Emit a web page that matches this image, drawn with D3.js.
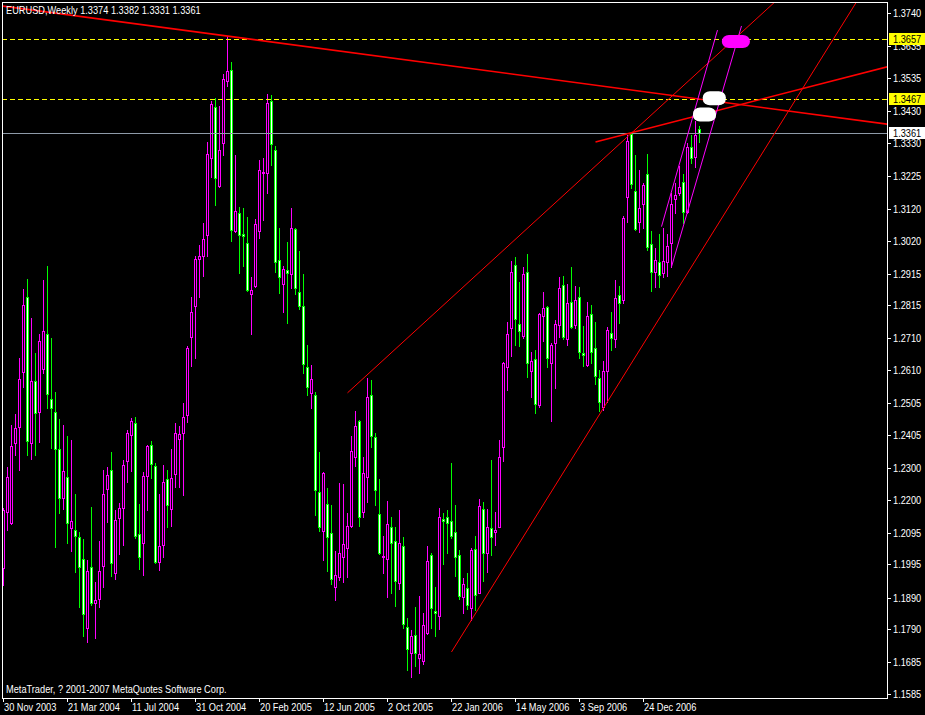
<!DOCTYPE html>
<html><head><meta charset="utf-8">
<script src="https://cdn.jsdelivr.net/npm/d3@7"></script>
<style>html,body{margin:0;padding:0;background:#000;overflow:hidden}</style>
</head><body>
<svg id="c" width="925" height="715"></svg>
<script>
// ---------------- DATA ----------------
const symbolTitle = "EURUSD,Weekly  1.3374 1.3382 1.3331 1.3361";
const copyright = "MetaTrader, ? 2001-2007 MetaQuotes Software Corp.";

const opens = [1.1984,1.2162,1.2125,1.2379,1.2429,1.2605,1.2840,1.2379,1.2576,1.2477,
1.2613,1.2723,1.2518,1.2477,1.2360,1.2204,1.2271,1.2110,1.2104,1.2081,
1.2011,1.1795,1.1986,1.1874,1.1885,1.1991,1.2233,1.2294,1.1967,1.2141,
1.2173,1.2323,1.2406,1.2442,1.2092,1.2063,1.2276,1.2373,1.2305,1.2003,
1.2057,1.2264,1.2169,1.2281,1.2391,1.2412,1.2469,1.2714,1.2813,1.2963,
1.2970,1.3036,1.3281,1.3443,1.3194,1.3330,1.3524,1.3559,1.3050,1.3107,
1.3041,1.3012,1.2852,1.2877,1.3051,1.3233,1.3235,1.3463,1.3307,1.2958,
1.2882,1.2926,1.2913,1.3057,1.2856,1.2813,1.2619,1.2537,1.2531,1.2224,
1.2102,1.2186,1.2094,1.1923,1.1956,1.2018,1.2048,1.2118,1.2334,1.2449,
1.2160,1.2273,1.2531,1.2398,1.2155,1.2018,1.2011,1.2113,1.2070,1.1936,
1.2054,1.1796,1.1714,1.1771,1.1698,1.1688,1.1779,1.2025,1.1849,1.1832,
1.2139,1.2144,1.2134,1.2097,1.2025,1.1891,1.1920,1.1856,1.2043,1.1906,
1.2170,1.2032,1.2110,1.2099,1.2115,1.2366,1.2621,1.2742,1.2943,1.2755,
1.2718,1.2921,1.2608,1.2644,1.2500,1.2782,1.2809,1.2632,1.2697,1.2753,
1.2879,1.2709,1.2826,1.2753,1.2840,1.2663,1.2626,1.2788,1.2679,1.2584,
1.2494,1.2608,1.2727,1.2709,1.2848,1.2832,1.3157,1.3356,1.3178,1.3078,
1.3135,1.3230,1.3008,1.2920,1.2953,1.2916,1.2951,1.3011,1.3151,1.3171,
1.3204,1.3111,1.3315,1.3283,1.3374];
const highs = [1.2174,1.2304,1.2436,1.2471,1.2647,1.2867,1.2898,1.2774,1.2663,1.2724,
1.2895,1.2940,1.2711,1.2540,1.2455,1.2436,1.2402,1.2389,1.2218,1.2099,
1.2075,1.2009,1.2176,1.1939,1.2070,1.2294,1.2303,1.2352,1.2167,1.2189,
1.2326,1.2421,1.2459,1.2462,1.2186,1.2288,1.2373,1.2386,1.2316,1.2218,
1.2310,1.2294,1.2361,1.2444,1.2433,1.2507,1.2685,1.2841,1.2971,1.3006,
1.3076,1.3332,1.3463,1.3471,1.3446,1.3548,1.3667,1.3586,1.3292,1.3125,
1.3123,1.3096,1.2905,1.3087,1.3275,1.3280,1.3484,1.3481,1.3319,1.3059,
1.2940,1.3014,1.3122,1.3059,1.2987,1.2914,1.2690,1.2626,1.2542,1.2352,
1.2289,1.2236,1.2183,1.2036,1.2252,1.2250,1.2157,1.2402,1.2481,1.2452,
1.2334,1.2584,1.2579,1.2410,1.2266,1.2085,1.2196,1.2144,1.2113,1.2167,
1.2081,1.1825,1.1788,1.1860,1.1895,1.1841,1.2054,1.2032,1.1923,1.2173,
1.2159,1.2167,1.2315,1.2183,1.2041,1.1951,1.1967,1.2046,1.2086,1.2201,
1.2191,1.2170,1.2326,1.2162,1.2389,1.2637,1.2761,1.2955,1.2967,1.2890,
1.2935,1.2977,1.2668,1.2674,1.2790,1.2858,1.2813,1.2695,1.2769,1.2906,
1.2908,1.2883,1.2937,1.2876,1.2872,1.2750,1.2827,1.2816,1.2763,1.2610,
1.2640,1.2746,1.2795,1.2895,1.2876,1.3098,1.3354,1.3364,1.3291,1.3243,
1.3201,1.3293,1.3050,1.2997,1.3041,1.3059,1.3041,1.3171,1.3201,1.3257,
1.3231,1.3328,1.3354,1.3399,1.3382];
const lows = [1.1930,1.2104,1.2123,1.2342,1.2294,1.2556,1.2342,1.2328,1.2342,1.2384,
1.2600,1.2489,1.2363,1.2049,1.2157,1.2170,1.2064,1.2039,1.1972,1.1860,
1.1770,1.1751,1.1867,1.1763,1.1860,1.1925,1.2130,1.1959,1.1948,1.2028,
1.2057,1.2257,1.2292,1.2079,1.1981,1.1960,1.2167,1.2269,1.1998,1.1978,
1.2020,1.2112,1.2118,1.2240,1.2240,1.2216,1.2447,1.2624,1.2648,1.2841,
1.2908,1.2972,1.3221,1.3134,1.3188,1.3292,1.3510,1.3019,1.3047,1.2916,
1.2938,1.2859,1.2725,1.2872,1.3027,1.3085,1.3171,1.3259,1.2921,1.2853,
1.2795,1.2760,1.2871,1.2850,1.2803,1.2602,1.2531,1.2489,1.2152,1.2102,
1.2009,1.1975,1.1932,1.1883,1.1946,1.1941,1.1956,1.2113,1.2308,1.2117,
1.2146,1.2191,1.2368,1.2183,1.2028,1.1969,1.1893,1.1906,1.1864,1.1917,
1.1795,1.1661,1.1639,1.1674,1.1653,1.1680,1.1775,1.1793,1.1767,1.1790,
1.1997,1.2032,1.2078,1.1959,1.1885,1.1841,1.1853,1.1819,1.1851,1.1904,
1.1944,1.1972,1.2025,1.2057,1.2113,1.2323,1.2547,1.2655,1.2690,1.2686,
1.2711,1.2589,1.2526,1.2473,1.2494,1.2703,1.2621,1.2450,1.2554,1.2714,
1.2709,1.2690,1.2742,1.2742,1.2647,1.2623,1.2623,1.2634,1.2566,1.2479,
1.2484,1.2510,1.2672,1.2684,1.2758,1.2822,1.3080,1.3185,1.3053,1.3046,
1.3061,1.2990,1.2861,1.2874,1.2872,1.2906,1.2908,1.2937,1.3106,1.3164,
1.3075,1.3108,1.3264,1.3252,1.3331];
const closes = [1.2167,1.2271,1.2370,1.2426,1.2581,1.2816,1.2387,1.2576,1.2473,1.2702,
1.2734,1.2534,1.2489,1.2360,1.2206,1.2291,1.2125,1.2133,1.2086,1.1986,
1.1838,1.1975,1.1874,1.1883,1.1975,1.2218,1.2278,1.1999,1.2136,1.2173,
1.2310,1.2410,1.2449,1.2085,1.2017,1.2275,1.2371,1.2314,1.2003,1.2054,
1.2256,1.2183,1.2267,1.2411,1.2409,1.2463,1.2681,1.2793,1.2962,1.2970,
1.3025,1.3294,1.3452,1.3219,1.3307,1.3531,1.3555,1.3052,1.3112,1.3036,
1.3034,1.2864,1.2864,1.3072,1.3243,1.3238,1.3454,1.3325,1.2953,1.2904,
1.2930,1.2916,1.3059,1.2869,1.2814,1.2629,1.2556,1.2581,1.2229,1.2115,
1.2284,1.2083,1.1949,1.1960,1.2030,1.2059,1.2118,1.2354,1.2434,1.2144,
1.2284,1.2524,1.2403,1.2229,1.2030,1.2022,1.2123,1.2064,1.1944,1.2062,
1.1806,1.1727,1.1769,1.1714,1.1711,1.1804,1.2006,1.1856,1.1841,1.2144,
1.2134,1.2127,1.2086,1.2017,1.1896,1.1933,1.1867,1.2041,1.1899,1.2181,
1.2030,1.2113,1.2083,1.2104,1.2334,1.2632,1.2723,1.2921,1.2772,1.2734,
1.2914,1.2634,1.2639,1.2502,1.2788,1.2806,1.2647,1.2690,1.2756,1.2869,
1.2716,1.2823,1.2747,1.2832,1.2668,1.2658,1.2781,1.2668,1.2592,1.2508,
1.2607,1.2737,1.2711,1.2837,1.2823,1.3091,1.3335,1.3198,1.3056,1.3124,
1.3196,1.2999,1.2920,1.2958,1.2911,1.2955,1.3003,1.3136,1.3164,1.3190,
1.3111,1.3315,1.3280,1.3354,1.3361];

const dateLabels = ["30 Nov 2003","21 Mar 2004","11 Jul 2004","31 Oct 2004","20 Feb 2005",
  "12 Jun 2005","2 Oct 2005","22 Jan 2006","14 May 2006","3 Sep 2006","24 Dec 2006"];
const dateLabelBars = [0,16,32,48,64,80,96,112,128,144,160];

const priceTickLabels = ["1.3740","1.3635","1.3535","1.3430","1.3330","1.3225","1.3120","1.3020",
  "1.2915","1.2815","1.2710","1.2610","1.2505","1.2405","1.2300","1.2200","1.2095","1.1995",
  "1.1890","1.1790","1.1685","1.1585"];

const hLevels = [1.3657, 1.3467];   // dashed horizontal lines
const bidPrice = 1.3361;

// trend lines: [bar1, price1, bar2, price2]
const thickTrendLines = [[56,1.3667,221,1.3388],[148,1.3332,221,1.3570]];
const thinTrendLines  = [[86,1.2538,157,1.3360],[112,1.1718,150,1.2490]];
const channelLines    = [[164.5,1.3064,178.5,1.3686],[167,1.2937,184.5,1.3699]];
// blobs: [bar, price]
const magentaBlobs = [[183.1,1.3648]];
const whiteBlobs   = [[177.7,1.3470],[175.25,1.3419]];

// ---------------- DRAW ----------------
const svg = d3.select("#c");
const L = 2, T = 2, R = 887, B = 698;
const x = d3.scaleLinear().domain([0, 174]).range([3.5, 699.5]);
const y = d3.scaleLinear().domain([1.1585, 1.3740]).range([694, 13]);

svg.append("rect").attr("width",925).attr("height",715).attr("fill","#000");
svg.append("defs").append("clipPath").attr("id","plot")
  .append("rect").attr("x",L+1).attr("y",T+1).attr("width",R-L-1).attr("height",B-T-1);

const font = "11px 'Liberation Sans', Arial, sans-serif";
function txt(g, tx, ty, s, fill){
  g.append("text").attr("transform",`translate(${tx},${ty}) scale(0.84,1)`)
   .attr("fill",fill).style("font",font).text(s);
}

const plot = svg.append("g").attr("clip-path","url(#plot)");
const candles = plot.append("g").attr("shape-rendering","crispEdges");
const bull = "#ff00ff", bear = "#00ff00";
opens.forEach((o,i)=>{
  const c = closes[i], h = highs[i], l = lows[i];
  const col = Math.floor(x(i));
  const up = c >= o;
  const color = up ? bull : bear;
  candles.append("line").attr("x1",col+0.5).attr("x2",col+0.5)
    .attr("y1",Math.round(y(h))).attr("y2",Math.round(y(l))+1)
    .attr("stroke",color).attr("stroke-width",1);
  const yt = Math.round(y(Math.max(o,c))), yb = Math.round(y(Math.min(o,c)));
  if (yb - yt < 1) {
    candles.append("line").attr("x1",col-1).attr("x2",col+2)
      .attr("y1",yt+0.5).attr("y2",yt+0.5).attr("stroke",color);
  } else {
    candles.append("rect").attr("x",col-0.5).attr("y",yt+0.5)
      .attr("width",2).attr("height",yb-yt)
      .attr("fill", up ? "#000" : "#fff").attr("stroke",color).attr("stroke-width",1);
  }
});

// horizontal levels
hLevels.forEach(p=>{
  const yy = Math.round(y(p))+0.5;
  plot.append("line").attr("x1",L).attr("x2",R).attr("y1",yy).attr("y2",yy)
    .attr("stroke","#ffff00").attr("stroke-dasharray","5,3");
});
{
  const yy = Math.round(y(bidPrice))+0.5;
  plot.append("line").attr("x1",L).attr("x2",R).attr("y1",yy).attr("y2",yy)
    .attr("stroke","#8e9aa8");
}

function drawTrend(def, color, width, extL, extR){
  let [b1,p1,b2,p2] = def;
  let x1=x(b1), y1=y(p1), x2=x(b2), y2=y(p2);
  const s = (y2-y1)/(x2-x1);
  if (extL){ const nx=-20; y1 = y1 + s*(nx-x1); x1 = nx; }
  if (extR){ const nx=940; y2 = y2 + s*(nx-x2); x2 = nx; }
  plot.append("line").attr("x1",x1).attr("y1",y1).attr("x2",x2).attr("y2",y2)
    .attr("stroke",color).attr("stroke-width",width);
}
drawTrend(thickTrendLines[0],"#ff0000",1.6,true,true);
drawTrend(thickTrendLines[1],"#ff0000",1.6,false,true);
thinTrendLines.forEach(d=>drawTrend(d,"#ff0000",1,false,true));
channelLines.forEach(d=>drawTrend(d,"#ff00ff",1,false,false));

magentaBlobs.forEach(([b,p])=>{
  plot.append("rect").attr("x",x(b)-14).attr("y",y(p)-7).attr("width",28).attr("height",13)
    .attr("rx",7).attr("ry",6).attr("fill","#ff00ff");
});
whiteBlobs.forEach(([b,p])=>{
  plot.append("rect").attr("x",x(b)-11.5).attr("y",y(p)-7).attr("width",23).attr("height",14)
    .attr("rx",7).attr("ry",6).attr("fill","#ffffff");
});

// frame
svg.append("rect").attr("x",L+0.5).attr("y",T+0.5).attr("width",R-L).attr("height",B-T)
  .attr("fill","none").attr("stroke","#fff").attr("shape-rendering","crispEdges");

// right axis
const ax = svg.append("g");
priceTickLabels.forEach(s=>{
  const yy = Math.round(y(+s));
  ax.append("line").attr("x1",R).attr("x2",R+4).attr("y1",yy+0.5).attr("y2",yy+0.5)
    .attr("stroke","#fff").attr("shape-rendering","crispEdges");
  txt(ax, 893, yy+4, s, "#fff");
});
// price boxes
[[hLevels[0],"#ffff00"],[hLevels[1],"#ffff00"],[bidPrice,"#ffffff"]].forEach(([p,bg])=>{
  const yy = Math.round(y(p));
  ax.append("rect").attr("x",889).attr("y",yy-6).attr("width",36).attr("height",12).attr("fill",bg);
  txt(ax, 893, yy+4, p.toFixed(4), "#000");
});

// bottom axis
dateLabelBars.forEach((b,k)=>{
  const xx = Math.floor(x(b))+0.5;
  ax.append("line").attr("x1",xx).attr("x2",xx).attr("y1",B).attr("y2",B+4)
    .attr("stroke","#fff").attr("shape-rendering","crispEdges");
  txt(ax, xx+0.5, 711, dateLabels[k], "#fff");
});

txt(svg, 6, 14, symbolTitle, "#fff");
txt(svg, 6, 693, copyright, "#fff");
</script>
</body></html>
